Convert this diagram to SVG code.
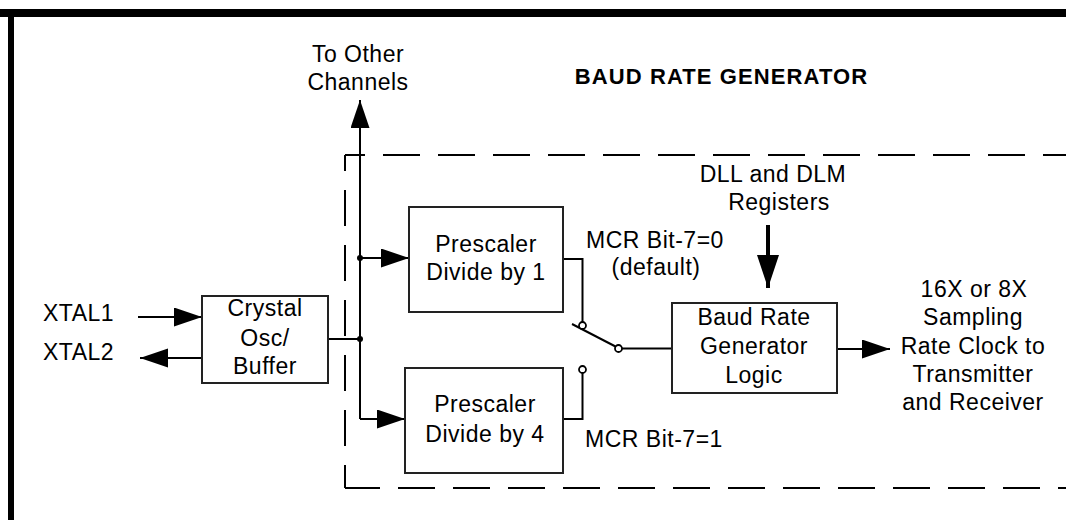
<svg xmlns="http://www.w3.org/2000/svg" width="1066" height="520" viewBox="0 0 1066 520">
<style>
  .t { font-family: "Liberation Sans", Arial, sans-serif; font-size: 23px; fill: #000; letter-spacing: 0.5px; }
  .c { text-anchor: middle; }
  .title { font-family: "Liberation Sans", Arial, sans-serif; font-size: 22px; font-weight: bold; fill: #000; letter-spacing: 1.1px; text-anchor: middle; }
  .box { fill: #fff; stroke: #222; stroke-width: 2; }
  .ln { fill: none; stroke: #000; stroke-width: 2; }
  .dash { fill: none; stroke: #000; stroke-width: 2; stroke-dasharray: 37 18; }
  .sw { fill: #fff; stroke: #000; stroke-width: 1.8; }
</style>
<defs>
  <marker id="ah" markerUnits="userSpaceOnUse" markerWidth="30" markerHeight="22" refX="28" refY="9.5" orient="auto">
    <path d="M0,0 L28,9.5 L0,19 z" fill="#000"/>
  </marker>
  <marker id="ahBig" markerUnits="userSpaceOnUse" markerWidth="36" markerHeight="26" refX="33" refY="11" orient="auto">
    <path d="M0,0 L33,11 L0,22 z" fill="#000"/>
  </marker>
</defs>
<rect width="1066" height="520" fill="#fff"/>
<!-- frame -->
<rect x="0" y="9" width="1066" height="8" fill="#000"/>
<rect x="8" y="9" width="6" height="511" fill="#000"/>

<!-- dashed boundary -->
<g id="boundary">
  <line class="dash" x1="345" y1="155" x2="1066" y2="155" stroke-dashoffset="17"/>
  <line class="dash" x1="345" y1="155" x2="345" y2="488" style="stroke-dasharray:36 19" stroke-dashoffset="20"/>
  <line class="dash" x1="345" y1="488" x2="1066" y2="488" stroke-dashoffset="2"/>
</g>

<text class="title" x="721.5" y="83.5">BAUD RATE GENERATOR</text>

<g id="connectors">
  <line class="ln" x1="138" y1="317" x2="202" y2="317" marker-end="url(#ah)"/>
  <line class="ln" x1="202" y1="358" x2="140" y2="358" marker-end="url(#ah)"/>
  <line class="ln" x1="328" y1="339" x2="360" y2="339"/>
  <line class="ln" x1="360" y1="419" x2="360" y2="100" marker-end="url(#ah)"/>
  <line class="ln" x1="360" y1="258" x2="409" y2="258" marker-end="url(#ah)"/>
  <polyline class="ln" points="360,419 405,419" marker-end="url(#ah)"/>
  <circle cx="360" cy="258" r="3" fill="#000"/>
  <circle cx="360" cy="339" r="3" fill="#000"/>
  <!-- switch -->
  <polyline class="ln" points="563,259 582.5,259 582.5,322"/>
  <polyline class="ln" points="563,419 582.5,419 582.5,373"/>
  <line class="ln" x1="572" y1="324" x2="615.5" y2="346.5"/>
  <line class="ln" x1="622" y1="348.5" x2="672" y2="348.5"/>
  <circle class="sw" cx="582.5" cy="325.5" r="3.5"/>
  <circle class="sw" cx="582.5" cy="369.5" r="3.5"/>
  <circle class="sw" cx="618.5" cy="348.5" r="3.5"/>
  <!-- DLL arrow -->
  <line x1="768" y1="225" x2="768" y2="288" stroke="#000" stroke-width="4" marker-end="url(#ahBig)"/>
  <!-- output -->
  <line class="ln" x1="837" y1="349" x2="890" y2="349" marker-end="url(#ah)"/>
</g>

<text class="t c" x="358" y="62">To Other</text>
<text class="t c" x="358" y="90">Channels</text>

<text class="t" x="43" y="321">XTAL1</text>
<text class="t" x="43" y="360">XTAL2</text>

<g id="crystal">
  <rect class="box" x="202" y="296" width="126" height="87"/>
  <text class="t c" x="265" y="316">Crystal</text>
  <text class="t c" x="265" y="346">Osc/</text>
  <text class="t c" x="265" y="374">Buffer</text>
</g>

<g id="prescaler1">
  <rect class="box" x="409" y="207" width="154" height="105"/>
  <text class="t c" x="486" y="252">Prescaler</text>
  <text class="t c" x="486" y="280">Divide by 1</text>
</g>

<g id="prescaler4">
  <rect class="box" x="405" y="368" width="158" height="105"/>
  <text class="t c" x="485" y="412">Prescaler</text>
  <text class="t c" x="485" y="442">Divide by 4</text>
</g>

<text class="t c" x="655" y="248">MCR Bit-7=0</text>
<text class="t c" x="656" y="275">(default)</text>
<text class="t c" x="654" y="447">MCR Bit-7=1</text>

<text class="t c" x="773" y="182">DLL and DLM</text>
<text class="t c" x="779" y="210">Registers</text>

<g id="brg">
  <rect class="box" x="672" y="303" width="165" height="90"/>
  <text class="t c" x="754" y="325">Baud Rate</text>
  <text class="t c" x="754" y="354">Generator</text>
  <text class="t c" x="754" y="383">Logic</text>
</g>

<g id="output">
  <text class="t c" x="974" y="297">16X or 8X</text>
  <text class="t c" x="973" y="325">Sampling</text>
  <text class="t c" x="973" y="354">Rate Clock to</text>
  <text class="t c" x="973" y="382">Transmitter</text>
  <text class="t c" x="973" y="410">and Receiver</text>
</g>
</svg>
